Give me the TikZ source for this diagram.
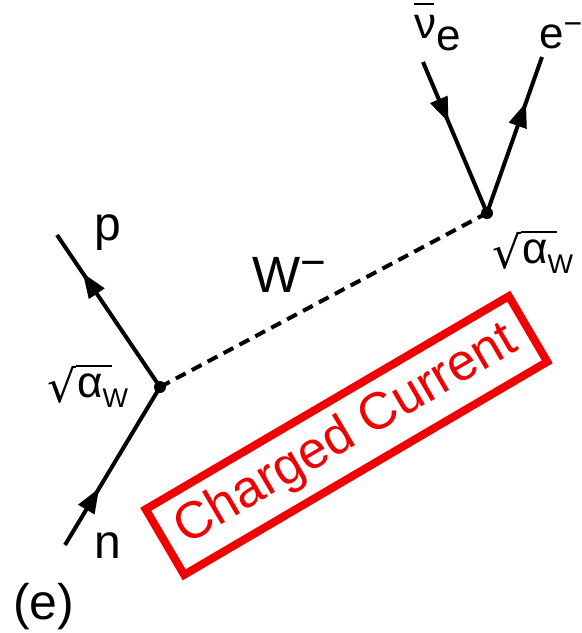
\documentclass[tikz,border=0pt]{standalone}
\usepackage{fontspec}
\setmainfont{Liberation Sans}
\newfontfamily\djv{DejaVu Sans}
\usetikzlibrary{arrows.meta,decorations.markings}
\definecolor{ccred}{RGB}{240,0,0}
\newcommand{\sqalpha}{\raisebox{-5pt}{\resizebox*{29pt}{37pt}{\djv √}}\rlap{\rule[30pt]{36pt}{2.2pt}}\kern1pt α\raisebox{-10pt}{\fontsize{27}{27}\selectfont W}}
\begin{document}
\begin{tikzpicture}[x=1pt,y=-1pt,
  fermion/.style={line width=4pt},
  arr/.style={decoration={markings, mark=at position #1 with {\arrow{Triangle[length=25pt,width=18pt]}}}, postaction={decorate}},
  boson/.style={line width=4pt, dash pattern=on 11pt off 7pt},
  lbl/.style={inner sep=0pt, anchor=base west, font=\fontsize{48}{50}\selectfont},
  coup/.style={lbl, font=\fontsize{44}{46}\selectfont},
  vdot/.style={fill=black}]
\useasboundingbox (0,0) rectangle (582,633);
\coordinate (v1) at (160,387);
\coordinate (v2) at (487,213);
\coordinate (pEnd) at (57,235);
\coordinate (nEnd) at (65,545);
\coordinate (nuEnd) at (423,62);
\coordinate (eEnd) at (542,57);
\draw[fermion, arr=0.36] (nEnd) -- (v1);
\draw[fermion, arr=0.75] (v1) -- (pEnd);
\draw[fermion, arr=0.40] (nuEnd) -- (v2);
\draw[fermion, arr=0.71] (v2) -- (eEnd);
\draw[boson] (v1) -- (v2);
\fill[vdot] (v1) circle (6pt);
\fill[vdot] (v2) circle (6pt);
\node[lbl, anchor=base] (p) at (107.5,240) {p};
\node[lbl, anchor=base] (n) at (107.5,558) {n};
\node[lbl, font=\fontsize{50}{52}\selectfont] (elab) at (13,619) {(e)};
\node[lbl, font=\fontsize{51}{52}\selectfont] (W) at (252,292) {W\raisebox{15pt}{\fontsize{44}{44}\selectfont −}};
\node[lbl, font=\fontsize{44}{46}\selectfont] (em) at (539,48) {e\raisebox{14pt}{\fontsize{32}{32}\selectfont −}};
\node[lbl, font=\fontsize{44}{46}\selectfont] (nu) at (414,38) {\rlap{\rule[33pt]{20pt}{2.5pt}}ν\raisebox{-12pt}{e}};
\node[coup] (a1) at (47,397) {\sqalpha};
\node[coup] (a2) at (492,263) {\sqalpha};
\node[draw=ccred, line width=8pt, minimum width=421pt, minimum height=76pt, inner sep=0pt, rotate=30.4, text=ccred, font=\fontsize{52}{54}\selectfont] (cc) at (346.5,435.5) {Charged Current};
\end{tikzpicture}
\end{document}
